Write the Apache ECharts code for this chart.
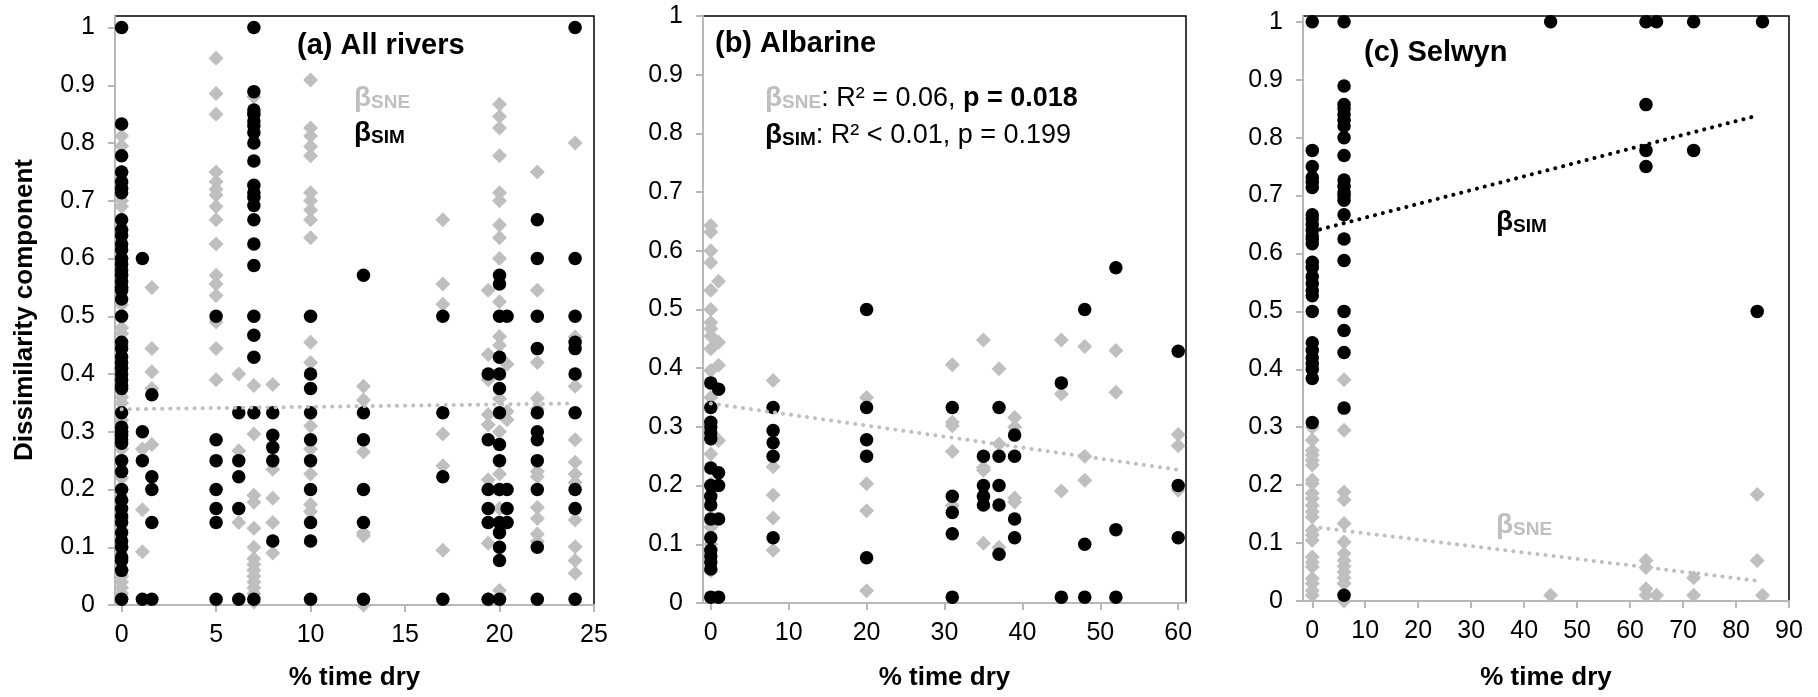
<!DOCTYPE html>
<html><head><meta charset="utf-8">
<script src="https://cdn.jsdelivr.net/npm/echarts@6.0.0/dist/echarts.min.js"></script>
<style>html,body{margin:0;padding:0;background:#fff}#c{width:1818px;height:697px}</style>
</head><body><div id="c"></div>
<script>
// ---------- Panel (a) All rivers ----------
const aSimX = [0, 1.1, 1.6, 5, 6.2, 7, 8, 10, 12.8, 17, 19.4, 20, 20.4, 22, 24];
const aSimY = [
  [1.0,0.833,0.778,0.75,0.733,0.722,0.714,0.667,0.65,0.64,0.625,0.615,0.6,0.59,0.58,0.571,0.56,0.55,0.545,0.53,0.5,0.455,0.444,0.43,0.42,0.41,0.4,0.39,0.38,0.375,0.333,0.308,0.3,0.294,0.286,0.28,0.25,0.231,0.2,0.182,0.167,0.154,0.143,0.125,0.111,0.1,0.083,0.077,0.06,0.01],
  [0.6,0.3,0.25,0.01],
  [0.364,0.222,0.2,0.143,0.01],
  [0.5,0.286,0.25,0.2,0.167,0.143,0.01],
  [0.333,0.25,0.222,0.167,0.01],
  [1.0,0.889,0.857,0.85,0.838,0.83,0.818,0.8,0.769,0.727,0.714,0.706,0.692,0.667,0.625,0.588,0.5,0.467,0.429,0.333,0.01],
  [0.333,0.294,0.273,0.25,0.111],
  [0.5,0.4,0.375,0.333,0.286,0.25,0.2,0.143,0.111,0.01],
  [0.571,0.333,0.286,0.2,0.143,0.01],
  [0.5,0.333,0.222,0.01],
  [0.4,0.286,0.2,0.167,0.143,0.01],
  [0.571,0.556,0.5,0.429,0.4,0.375,0.333,0.278,0.25,0.2,0.143,0.125,0.1,0.077,0.01],
  [0.5,0.2,0.167,0.143],
  [0.667,0.6,0.5,0.444,0.333,0.3,0.286,0.25,0.2,0.1,0.01],
  [1.0,0.6,0.5,0.455,0.444,0.4,0.333,0.2,0.167,0.01]
];
const aSneX = [0, 1.1, 1.6, 5, 6.2, 7, 8, 10, 12.8, 17, 19.4, 20, 20.4, 22, 24];
const aSneY = [
  [0.812,0.795,0.75,0.73,0.72,0.7,0.69,0.65,0.6,0.55,0.52,0.48,0.47,0.45,0.36,0.35,0.32,0.3,0.27,0.25,0.22,0.2,0.18,0.15,0.13,0.1,0.08,0.06,0.05,0.04,0.03,0.02,0.01],
  [0.27,0.165,0.092],
  [0.55,0.444,0.404,0.375,0.278],
  [0.947,0.886,0.85,0.75,0.733,0.72,0.71,0.69,0.667,0.625,0.571,0.556,0.536,0.49,0.444,0.39],
  [0.4,0.267,0.143],
  [0.88,0.38,0.296,0.19,0.178,0.133,0.1,0.08,0.07,0.06,0.05,0.04,0.03,0.02,0.005],
  [0.382,0.235,0.185,0.143,0.09],
  [0.909,0.826,0.812,0.794,0.778,0.714,0.7,0.684,0.667,0.636,0.455,0.42,0.31,0.27,0.227,0.174,0.162],
  [0.379,0.355,0.265,0.125,0.12,0.0],
  [0.667,0.556,0.521,0.296,0.241,0.095],
  [0.545,0.434,0.39,0.33,0.312,0.217,0.107,0.01],
  [0.867,0.846,0.826,0.778,0.714,0.7,0.658,0.636,0.6,0.525,0.465,0.45,0.357,0.3,0.25,0.227,0.2,0.167,0.13,0.025],
  [0.417,0.335,0.321],
  [0.75,0.545,0.42,0.358,0.34,0.231,0.222,0.169,0.15,0.123,0.11],
  [0.8,0.464,0.379,0.286,0.247,0.227,0.212,0.147,0.101,0.077,0.055]
];
const aTrendX = [0, 24];
const aTrendSneY = [0.339, 0.349];
const aXTicks = [0, 5, 10, 15, 20, 25];

// ---------- Panel (b) Albarine ----------
const bSimX = [0, 1, 8, 20, 31, 35, 37, 39, 45, 48, 52, 60];
const bSimY = [
  [0.375,0.333,0.308,0.3,0.29,0.28,0.23,0.2,0.182,0.167,0.143,0.111,0.09,0.08,0.07,0.058,0.01],
  [0.364,0.222,0.2,0.143,0.01],
  [0.333,0.294,0.273,0.25,0.111],
  [0.5,0.333,0.278,0.25,0.077],
  [0.333,0.182,0.154,0.118,0.01],
  [0.25,0.2,0.182,0.167],
  [0.333,0.25,0.2,0.167,0.083],
  [0.286,0.25,0.143,0.111],
  [0.375,0.01],
  [0.5,0.1,0.01],
  [0.571,0.125,0.01],
  [0.429,0.2,0.111]
];
const bSneX = [0, 1, 8, 20, 31, 35, 37, 39, 45, 48, 52, 60];
const bSneY = [
  [0.643,0.632,0.6,0.58,0.533,0.5,0.478,0.467,0.455,0.433,0.396,0.35,0.28,0.254,0.203,0.129,0.1,0.055],
  [0.548,0.444,0.405,0.277],
  [0.379,0.232,0.184,0.145,0.09],
  [0.35,0.203,0.157,0.021],
  [0.406,0.308,0.302,0.258,0.166],
  [0.448,0.231,0.226,0.102],
  [0.399,0.271,0.095],
  [0.316,0.3,0.179,0.172],
  [0.448,0.356,0.191],
  [0.437,0.25,0.209],
  [0.43,0.359],
  [0.287,0.268,0.192]
];
const bTrendX = [0, 60];
const bTrendSneY = [0.34, 0.227];
const bXTicks = [0, 10, 20, 30, 40, 50, 60];

// ---------- Panel (c) Selwyn ----------
const cSimX = [0, 6, 45, 63, 65, 72, 84, 85];
const cSimY = [
  [1.0,0.778,0.75,0.731,0.723,0.714,0.667,0.66,0.65,0.64,0.63,0.625,0.617,0.585,0.576,0.56,0.548,0.536,0.527,0.5,0.446,0.433,0.42,0.41,0.4,0.384,0.308],
  [1.0,0.889,0.857,0.85,0.84,0.83,0.82,0.8,0.769,0.727,0.716,0.706,0.7,0.692,0.667,0.625,0.588,0.5,0.467,0.429,0.333,0.01],
  [1.0],
  [1.0,0.857,0.778,0.75],
  [1.0],
  [1.0,0.778],
  [0.5],
  [1.0]
];
const cSneX = [0, 6, 45, 63, 65, 72, 84, 85];
const cSneY = [
  [0.3,0.278,0.26,0.252,0.243,0.235,0.209,0.203,0.186,0.177,0.165,0.154,0.145,0.122,0.114,0.105,0.076,0.067,0.059,0.039,0.03,0.018,0.01],
  [0.382,0.295,0.188,0.175,0.134,0.102,0.082,0.07,0.06,0.05,0.04,0.03,0.01,0.0],
  [0.01],
  [0.07,0.058,0.021,0.01],
  [0.01],
  [0.04,0.01],
  [0.184,0.07],
  [0.01]
];
const cTrendX = [0, 84];
const cTrendSimY = [0.638, 0.838];
const cTrendSneY = [0.128, 0.035];
const cXTicks = [0, 10, 20, 30, 40, 50, 60, 70, 80, 90];

const yTicks = [0, 0.1, 0.2, 0.3, 0.4, 0.5, 0.6, 0.7, 0.8, 0.9, 1];

// ---------- build ----------
const F = '"Liberation Sans", Arial, Helvetica, sans-serif';
const GRAY = '#bfbfbf';
const AXG = '#b8b8b8';
function pairs(xs, ys) { const o = []; xs.forEach((x, i) => ys[i].forEach(y => o.push([x, y]))); return o; }
function zip(xs, ys) { return xs.map((x, i) => [x, ys[i]]); }

const grids = [
  {left: 115, top: 16, width: 479, height: 589},
  {left: 703, top: 16, width: 483, height: 587},
  {left: 1303, top: 16, width: 486, height: 585}
].map(g => Object.assign(g, {show: true, borderColor: '#000', borderWidth: 1.5, backgroundColor: 'transparent', containLabel: false}));

function xAx(i, min, max, ticks, gap) {
  return {
    gridIndex: i, type: 'value', min, max, z: 3,
    name: '% time dry', nameLocation: 'middle', nameGap: gap,
    nameTextStyle: {fontFamily: F, fontSize: 26, fontWeight: 'bold', color: '#000'},
    axisLine: {show: true, onZero: false, lineStyle: {color: AXG, width: 2}},
    axisTick: {show: true, length: 7, customValues: ticks, lineStyle: {color: AXG, width: 2}},
    axisLabel: {customValues: ticks, margin: 18, fontFamily: F, fontSize: 25, color: '#000'},
    splitLine: {show: false}
  };
}
function yAx(i, max) {
  return {
    gridIndex: i, type: 'value', min: 0, max, z: 3,
    axisLine: {show: true, onZero: false, lineStyle: {color: AXG, width: 2}},
    axisTick: {show: true, length: 7, customValues: yTicks, lineStyle: {color: AXG, width: 2}},
    axisLabel: {customValues: yTicks, margin: 20, fontFamily: F, fontSize: 25, color: '#000'},
    splitLine: {show: false}
  };
}

function sne(i, data) {
  return {type: 'scatter', xAxisIndex: i, yAxisIndex: i, data, symbol: 'diamond', symbolSize: 15,
    itemStyle: {color: GRAY, opacity: 1}, z: 2, silent: true, clip: false};
}
function sim(i, data) {
  return {type: 'scatter', xAxisIndex: i, yAxisIndex: i, data, symbol: 'circle', symbolSize: 13.5,
    itemStyle: {color: '#000', opacity: 1}, z: 4, silent: true, clip: false};
}
function trend(i, data, color, z) {
  return {type: 'line', xAxisIndex: i, yAxisIndex: i, data, symbol: 'none', z,
    lineStyle: {color, width: 4, type: [0.1, 8], cap: 'round'}, silent: true};
}

const T = (o) => Object.assign({padding: 0}, o);
const betaRich = (col) => ({
  b: {fontFamily: F, fontSize: 28, fontWeight: 'bold', color: col, verticalAlign: 'bottom', lineHeight: 32},
  s: {fontFamily: F, fontSize: 19, fontWeight: 'bold', color: col, verticalAlign: 'bottom', lineHeight: 25},
  n: {fontFamily: F, fontSize: 27, fontWeight: 'normal', color: '#000', verticalAlign: 'bottom', lineHeight: 32},
  nb: {fontFamily: F, fontSize: 27, fontWeight: 'bold', color: '#000', verticalAlign: 'bottom', lineHeight: 32}
});
const titleStyle = {fontFamily: F, fontSize: 29, fontWeight: 'bold', color: '#000'};

const option = {
  animation: false,
  backgroundColor: '#fff',
  grid: grids,
  xAxis: [xAx(0, -0.35, 25, aXTicks, 60), xAx(1, -1, 61, bXTicks, 62), xAx(2, -1.75, 90, cXTicks, 64)],
  yAxis: [yAx(0, 1.02), yAx(1, 1), yAx(2, 1.01)],
  title: [
    T({text: '(a) All rivers', left: 297, top: 31, textStyle: titleStyle}),
    T({text: '(b) Albarine', left: 715, top: 29, textStyle: titleStyle}),
    T({text: '(c) Selwyn', left: 1364, top: 38, textStyle: titleStyle}),
    T({text: '{b|β}{s|SNE}', left: 354, top: 80, textStyle: {rich: betaRich(GRAY)}}),
    T({text: '{b|β}{s|SIM}', left: 354, top: 115, textStyle: {rich: betaRich('#000')}}),
    T({text: '{b|β}{s|SNE}{n|: R² = 0.06, }{nb|p = 0.018}', left: 765, top: 80, textStyle: {rich: betaRich(GRAY)}}),
    T({text: '{b|β}{s|SIM}{n|: R² < 0.01, p = 0.199}', left: 765, top: 117, textStyle: {rich: betaRich('#000')}}),
    T({text: '{b|β}{s|SIM}', left: 1496, top: 204, textStyle: {rich: betaRich('#000')}}),
    T({text: '{b|β}{s|SNE}', left: 1496, top: 507, textStyle: {rich: betaRich(GRAY)}})
  ],
  graphic: [{
    type: 'text', x: 25, y: 310, rotation: Math.PI / 2,
    style: {text: 'Dissimilarity component', font: 'bold 26px ' + F, fill: '#000',
      align: 'center', verticalAlign: 'middle', textAlign: 'center', textVerticalAlign: 'middle'}
  }],
  series: [
    sne(0, pairs(aSneX, aSneY)), sim(0, pairs(aSimX, aSimY)), trend(0, zip(aTrendX, aTrendSneY), GRAY, 5),
    sne(1, pairs(bSneX, bSneY)), sim(1, pairs(bSimX, bSimY)), trend(1, zip(bTrendX, bTrendSneY), GRAY, 5),
    sne(2, pairs(cSneX, cSneY)), sim(2, pairs(cSimX, cSimY)),
    trend(2, zip(cTrendX, cTrendSimY), '#000', 5), trend(2, zip(cTrendX, cTrendSneY), GRAY, 5)
  ]
};
echarts.init(document.getElementById('c'), null, {renderer: 'canvas'}).setOption(option);
</script></body></html>
